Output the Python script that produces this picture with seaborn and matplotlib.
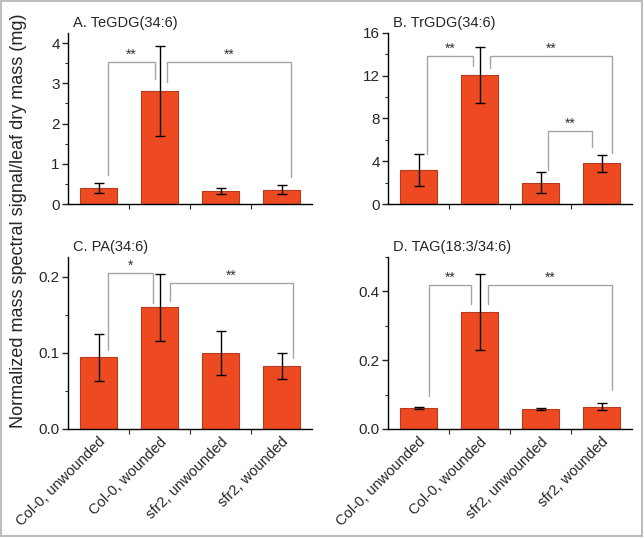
import matplotlib
matplotlib.use("Agg")
import matplotlib.pyplot as plt
from matplotlib.patches import Rectangle
from matplotlib.ticker import MultipleLocator, FixedLocator, FormatStrFormatter
import pandas as pd
import seaborn as sns

# data
groups = ["Col-0, unwounded", "Col-0, wounded", "sfr2, unwounded", "sfr2, wounded"]
titles = ["A. TeGDG(34:6)", "B. TrGDG(34:6)", "C. PA(34:6)", "D. TAG(18:3/34:6)"]

tegdg = [0.40, 2.80, 0.32, 0.36]
tegdg_err = [0.13, 1.12, 0.075, 0.12]
trgdg = [3.2, 12.05, 2.0, 3.8]
trgdg_err = [1.5, 2.6, 0.95, 0.82]
pa = [0.094, 0.160, 0.100, 0.083]
pa_err = [0.031, 0.044, 0.029, 0.017]
tag = [0.062, 0.340, 0.058, 0.065]
tag_err = [0.003, 0.11, 0.004, 0.011]

# significance brackets: (x_left, x_right, y_top, y_left_end, y_right_end, label)
brackets_a = [(0.16, 0.92, 3.53, 0.72, 3.11, "**"), (1.13, 3.16, 3.53, 3.03, 0.67, "**")]
brackets_b = [(0.14, 0.90, 13.85, 4.69, 12.87, "**"), (1.17, 3.18, 13.85, 12.75, 4.78, "**"),
              (2.13, 2.85, 6.87, 3.19, 5.37, "**")]
brackets_c = [(0.15, 0.90, 0.205, 0.104, 0.166, "*"), (1.17, 3.185, 0.192, 0.168, 0.093, "**")]
brackets_d = [(0.17, 0.865, 0.418, 0.096, 0.362, "**"), (1.135, 3.175, 0.418, 0.362, 0.114, "**")]

sns.set_style("ticks")
plt.rcParams['font.family'] = ['Liberation Sans', 'DejaVu Sans']

fig = plt.figure(figsize=(6.44, 5.38), dpi=100)

W, H = 644.0, 538.0
panels = [
    (tegdg, tegdg_err, brackets_a, (68, 33, 312, 204), 4.25, 1, 0.5, "%d"),
    (trgdg, trgdg_err, brackets_b, (388, 33, 632, 204), 16.0, 4, 2, "%d"),
    (pa, pa_err, brackets_c, (68, 257, 312, 429), 0.226, 0.1, 0.05, "%.1f"),
    (tag, tag_err, brackets_d, (388, 257, 632, 429), 0.50, 0.2, 0.1, "%.1f"),
]

bar_color = "#EE4A22"
for k, (vals, errs, brs, box, ytop, major, minor, fmt) in enumerate(panels):
    x0, y0, x1, y1 = box
    ax = fig.add_axes([x0 / W, 1 - y1 / H, (x1 - x0) / W, (y1 - y0) / H])
    df = pd.DataFrame({"group": groups, "value": vals})
    sns.barplot(data=df, x="group", y="value", color=bar_color, saturation=1,
                width=0.6, errorbar=None, edgecolor="#B83A1E", linewidth=0.8, ax=ax)
    ax.errorbar(range(len(vals)), vals, yerr=errs, fmt="none", ecolor="black",
                elinewidth=1.0, capsize=3.5, capthick=1.0)
    for xl, xr, yt, yl, yr, lab in brs:
        ax.plot([xl, xl, xr, xr], [yl, yt, yt, yr], color="#A5A5A5", lw=1.0,
                solid_joinstyle="miter")
        ax.text((xl + xr) / 2, yt, lab, ha="center", va="bottom", fontsize=10,
                color="#333333")
    ax.set_xlim(-0.5, 3.5)
    ax.set_ylim(0, ytop)
    ax.set_xlabel("")
    ax.set_ylabel("")
    sns.despine(ax=ax)
    for s in ["left", "bottom"]:
        ax.spines[s].set_linewidth(1.0)
        ax.spines[s].set_color("black")
    ax.yaxis.set_major_locator(MultipleLocator(major))
    ax.yaxis.set_minor_locator(MultipleLocator(minor))
    ax.yaxis.set_major_formatter(FormatStrFormatter(fmt))
    ax.tick_params(axis="y", which="major", length=4, width=1, labelsize=11, pad=2)
    ax.tick_params(axis="y", which="minor", length=2.5, width=0.8)
    ax.xaxis.set_minor_locator(FixedLocator([0.5, 1.5, 2.5]))
    ax.tick_params(axis="x", which="major", length=0, pad=4)
    ax.tick_params(axis="x", which="minor", length=3.5, width=0.8)
    ax.set_xticks(range(len(groups)))
    if k >= 2:
        ax.set_xticklabels(groups, rotation=45, ha="right", rotation_mode="anchor",
                           fontsize=10.5)
    else:
        ax.set_xticklabels([])
    # panel title sits just above the axes, left aligned
    fig.text(x0 / W + 0.007, 1 - (y0 - 6) / H, titles[k],
             fontsize=10.5, ha="left", va="baseline")

fig.text(0.028, 0.589, "Normalized mass spectral signal/leaf dry mass (mg)",
         rotation=90, ha="center", va="center", fontsize=13)

fig.patches.append(Rectangle((0.002, 0.004), 0.995, 0.994, transform=fig.transFigure,
                             fill=False, edgecolor="#BDBDBD", lw=1.5))

fig.savefig("out.png", dpi=100)
